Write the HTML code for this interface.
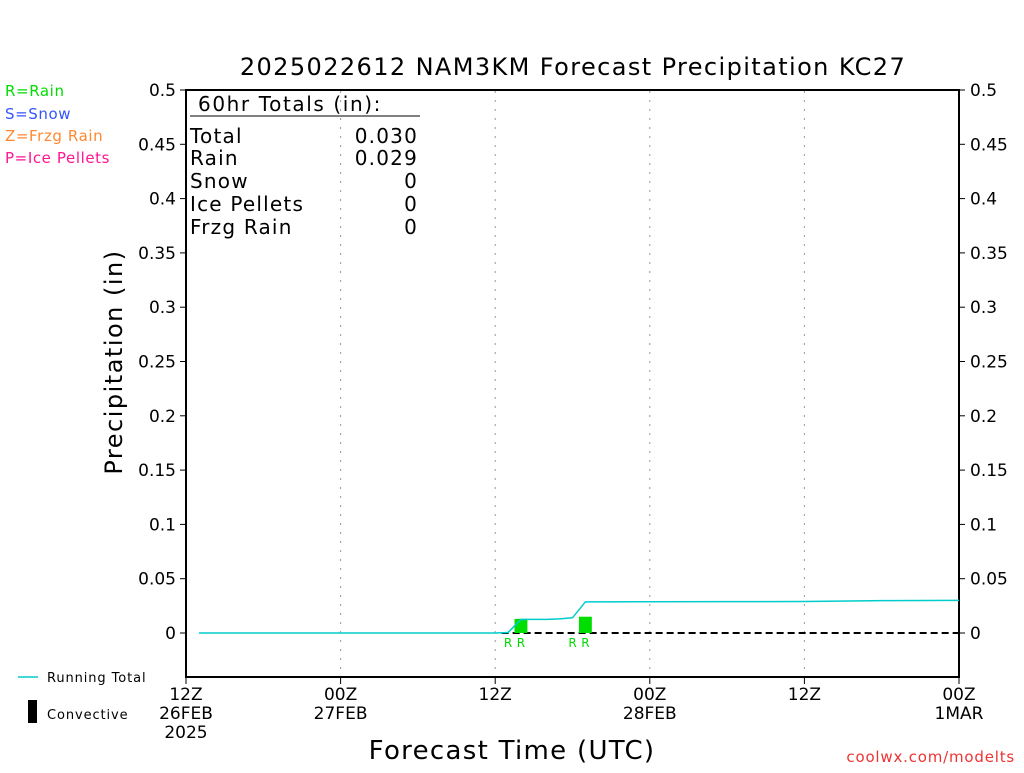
<!DOCTYPE html>
<html><head><meta charset="utf-8"><style>
body{margin:0;background:#fff;}
svg text{font-family:"DejaVu Sans","Liberation Sans",sans-serif;}
</style></head><body>
<svg width="1024" height="768" xmlns="http://www.w3.org/2000/svg">
<text x="573" y="75" text-anchor="middle" font-size="24" letter-spacing="1.4">2025022612 NAM3KM Forecast Precipitation KC27</text>
<g font-size="15" letter-spacing="0.6">
<text x="5" y="96" fill="#00dd00">R=Rain</text>
<text x="5" y="119" fill="#3355ff">S=Snow</text>
<text x="5" y="141" fill="#ff8833">Z=Frzg Rain</text>
<text x="5" y="163" fill="#ff1493">P=Ice Pellets</text>
</g>
<g id="grid"></g>
<rect x="186" y="90" width="773" height="587" fill="none" stroke="#000" stroke-width="2"/>
<g id="yticks" font-size="17"></g>
<g id="xticks" font-size="17"></g>
<text transform="translate(122,362) rotate(-90)" text-anchor="middle" font-size="24" letter-spacing="1.5">Precipitation (in)</text>
<text x="512" y="759" text-anchor="middle" font-size="26" letter-spacing="1.3">Forecast Time (UTC)</text>
<text x="1015" y="762" text-anchor="end" font-size="15" letter-spacing="0.8" fill="#ee3333">coolwx.com/modelts</text>
<g font-size="20" letter-spacing="1.2">
<text x="198" y="111" letter-spacing="1.6">60hr Totals (in):</text>
<line x1="190" y1="116" x2="420" y2="116" stroke="#000" stroke-width="1"/>
<text x="190" y="143">Total</text><text x="418" y="143" text-anchor="end">0.030</text>
<text x="190" y="165">Rain</text><text x="418" y="165" text-anchor="end">0.029</text>
<text x="190" y="188">Snow</text><text x="418" y="188" text-anchor="end">0</text>
<text x="190" y="211">Ice Pellets</text><text x="418" y="211" text-anchor="end">0</text>
<text x="190" y="234">Frzg Rain</text><text x="418" y="234" text-anchor="end">0</text>
</g>
<g id="marks"></g>
<g font-size="13" letter-spacing="0.9">
<line x1="18" y1="677" x2="38" y2="677" stroke="#00cccc" stroke-width="1.5"/>
<text x="47" y="682">Running Total</text>
<rect x="28" y="700" width="9" height="23" fill="#000"/>
<text x="47" y="719">Convective</text>
</g>
</svg>
<script>
const yTicks=["0","0.05","0.1","0.15","0.2","0.25","0.3","0.35","0.4","0.45","0.5"];
const yTickValues=[0,0.05,0.1,0.15,0.2,0.25,0.3,0.35,0.4,0.45,0.5];
const xTickHours=[0,12,24,36,48,60];
const xTickLabels=[["12Z","26FEB","2025"],["00Z","27FEB"],["12Z"],["00Z","28FEB"],["12Z"],["00Z","1MAR"]];
const totalHours=[1,24,25,26,27,28,29,30,31,32,36,42,48,54,60];
const totalValues=[0,0,0.0005,0.0125,0.0125,0.0125,0.013,0.014,0.0287,0.0287,0.0288,0.0289,0.029,0.0298,0.030];
const barHours=[26,31];
const barValues=[0.013,0.015];
const NS="http://www.w3.org/2000/svg";
const X=h=>186+h*(773/60);
const Y=v=>633-v*(543/0.5);
function mk(t,a,p){const e=document.createElementNS(NS,t);for(const k in a)e.setAttribute(k,a[k]);p.appendChild(e);return e;}
const grid=document.getElementById('grid'),yt=document.getElementById('yticks'),xt=document.getElementById('xticks'),marks=document.getElementById('marks');
yTickValues.forEach((v,i)=>{
 const y=Y(v);
 const l=mk('line',{x1:180,x2:186,y1:y,y2:y,stroke:'#000'},yt);
 
 
 mk('line',{x1:959,x2:965,y1:y,y2:y,stroke:'#000'},yt);
 const t=mk('text',{x:176,y:y+6,'text-anchor':'end'},yt);t.textContent=yTicks[i];
 
 
 const t2=mk('text',{x:970,y:y+6},yt);t2.textContent=yTicks[i];
 
 
});
xTickHours.forEach((h,i)=>{
 const x=X(h);
 if(i>0&&i<xTickHours.length-1){const g=mk('line',{x1:x,x2:x,y1:91,y2:676,stroke:'#999','stroke-dasharray':'2,7'},grid);
 
 }
 mk('line',{x1:x,x2:x,y1:677,y2:684,stroke:'#000'},xt);
 xTickLabels[i].forEach((s,j)=>{const t=mk('text',{x:x,y:700+j*19,'text-anchor':'middle'},xt);t.textContent=s;
 
 });
});
const zl=mk('line',{x1:X(24.5),x2:959,y1:Y(0),y2:Y(0),stroke:'#000','stroke-width':2,'stroke-dasharray':'7,4'},marks);


barHours.forEach((h,i)=>{
 const r=mk('rect',{x:X(h-0.5),y:Y(barValues[i]),width:773/60,height:Y(0)-Y(barValues[i]),fill:'#00dd00'},marks);
 
 
 [h-1,h].forEach(hh=>{const t=mk('text',{x:X(hh),y:647,'text-anchor':'middle','font-size':12,fill:'#00dd00'},marks);t.textContent='R';
 
 });
});
const p=mk('polyline',{points:totalHours.map((h,i)=>X(h)+','+Y(totalValues[i])).join(' '),fill:'none',stroke:'#00cccc','stroke-width':1.5},marks);


</script>
</body></html>
